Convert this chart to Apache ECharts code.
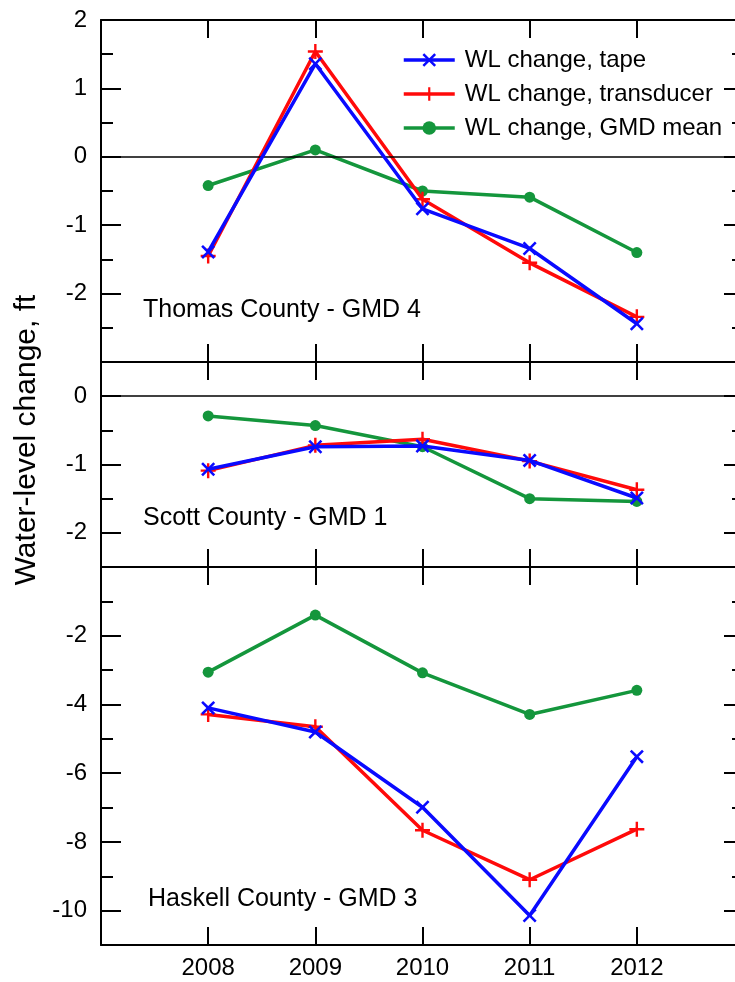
<!DOCTYPE html>
<html>
<head>
<meta charset="utf-8">
<script src="https://cdn.jsdelivr.net/npm/echarts@6/dist/echarts.min.js"></script>
<style>
html,body{margin:0;padding:0;background:#fff;}
#chart{width:735px;height:982px;}
</style>
</head>
<body>
<div id="chart"></div>
<script>
// ---- data ----
const years = [2008, 2009, 2010, 2011, 2012];
const seriesNames = ['WL change, tape', 'WL change, transducer', 'WL change, GMD mean'];
const panelLabels = ['Thomas County - GMD 4', 'Scott County - GMD 1', 'Haskell County - GMD 3'];

const thomasTape        = [-1.39, 1.36, -0.76, -1.34, -2.44];
const thomasTransducer  = [-1.45, 1.54, -0.62, -1.55, -2.34];
const thomasMean        = [-0.42, 0.10, -0.50, -0.59, -1.40];

const scottTape         = [-1.07, -0.74, -0.73, -0.94, -1.49];
const scottTransducer   = [-1.09, -0.72, -0.63, -0.95, -1.37];
const scottMean         = [-0.29, -0.43, -0.74, -1.50, -1.54];

const haskellTape       = [-4.10, -4.80, -6.99, -10.14, -5.52];
const haskellTransducer = [-4.29, -4.65, -7.66, -9.10, -7.63];
const haskellMean       = [-3.06, -1.40, -3.08, -4.29, -3.59];

const yTicks1 = [2, 1, 0, -1, -2];
const yTicks2 = [0, -1, -2];
const yTicks3 = [-2, -4, -6, -8, -10];

// ---- layout ----
const panels = [
  {top: 20,  height: 342, min: -3,   max: 2,   majors: yTicks1, minorStep: 0.5, tape: thomasTape,  trans: thomasTransducer,  mean: thomasMean,  zero: true},
  {top: 362, height: 205, min: -2.5, max: 0.5, majors: yTicks2, minorStep: 0.5, tape: scottTape,   trans: scottTransducer,   mean: scottMean,   zero: true},
  {top: 567, height: 378, min: -11,  max: 0,   majors: yTicks3, minorStep: 1,   tape: haskellTape, trans: haskellTransducer, mean: haskellMean, zero: false}
];

const FONT = '"Liberation Sans", Arial, sans-serif';
const BLUE = '#0a0aff', RED = '#ff0a0a', GREEN = '#14963c';
const XSYM = 'path://M0,1.3 L1.3,0 L5,3.7 L8.7,0 L10,1.3 L6.3,5 L10,8.7 L8.7,10 L5,6.3 L1.3,10 L0,8.7 L3.7,5 Z';
const PSYM = 'path://M4.2,0 H5.8 V4.2 H10 V5.8 H5.8 V10 H4.2 V5.8 H0 V4.2 H4.2 Z';

const axisLine = {show: true, onZero: false, lineStyle: {color: '#000', width: 2}};
const grids = [], xAxes = [], yAxes = [], series = [];

panels.forEach((p, g) => {
  grids.push({left: 101, width: 643, top: p.top, height: p.height, containLabel: false, outerBoundsMode: 'none'});
  // bottom x
  xAxes.push({
    gridIndex: g, type: 'value', min: 2007, max: 2013, position: 'bottom',
    axisLine: axisLine,
    axisTick: {show: true, inside: true, length: 18, customValues: years, lineStyle: {color: '#000', width: 2}},
    axisLabel: {show: g === 2, customValues: years, formatter: v => String(v), margin: 11, color: '#000', fontSize: 24, fontFamily: FONT},
    splitLine: {show: false}
  });
  // top x
  xAxes.push({
    gridIndex: g, type: 'value', min: 2007, max: 2013, position: 'top',
    axisLine: axisLine,
    axisTick: {show: true, inside: true, length: 18, customValues: years, lineStyle: {color: '#000', width: 2}},
    axisLabel: {show: false},
    splitLine: {show: false}
  });
  const yBase = yAxes.length;
  // left major
  yAxes.push({
    gridIndex: g, type: 'value', min: p.min, max: p.max, position: 'left',
    axisLine: axisLine,
    axisTick: {show: true, inside: true, length: 20, customValues: p.majors, lineStyle: {color: '#000', width: 2}},
    axisLabel: {show: true, customValues: p.majors, formatter: v => String(v), margin: 14, color: '#000', fontSize: 24, fontFamily: FONT},
    splitLine: {show: false}
  });
  // left minor
  yAxes.push({
    gridIndex: g, type: 'value', min: p.min, max: p.max, interval: p.minorStep, position: 'left',
    axisLine: {show: false, onZero: false},
    axisTick: {show: true, inside: true, length: 12, lineStyle: {color: '#000', width: 2}},
    axisLabel: {show: false}, splitLine: {show: false}
  });
  // right major
  yAxes.push({
    gridIndex: g, type: 'value', min: p.min, max: p.max, position: 'right',
    axisLine: axisLine,
    axisTick: {show: true, inside: true, length: 20, customValues: p.majors, lineStyle: {color: '#000', width: 2}},
    axisLabel: {show: false}, splitLine: {show: false}
  });
  // right minor
  yAxes.push({
    gridIndex: g, type: 'value', min: p.min, max: p.max, interval: p.minorStep, position: 'right',
    axisLine: {show: false, onZero: false},
    axisTick: {show: true, inside: true, length: 12, lineStyle: {color: '#000', width: 2}},
    axisLabel: {show: false}, splitLine: {show: false}
  });

  const pts = arr => years.map((y, i) => [y, arr[i]]);
  const common = {type: 'line', xAxisIndex: g * 2, yAxisIndex: yBase, animation: false, silent: true};
  series.push(Object.assign({}, common, {
    name: seriesNames[2], data: pts(p.mean), z: 3,
    symbol: 'circle', symbolSize: 11,
    lineStyle: {color: GREEN, width: 3.5}, itemStyle: {color: GREEN},
    markLine: p.zero ? {
      silent: true, symbol: ['none', 'none'], label: {show: false},
      lineStyle: {color: '#000', width: 1.5, type: 'solid'},
      data: [{yAxis: 0}]
    } : undefined
  }));
  series.push(Object.assign({}, common, {
    name: seriesNames[1], data: pts(p.trans), z: 4,
    symbol: PSYM, symbolSize: 15,
    lineStyle: {color: RED, width: 3.5}, itemStyle: {color: RED}
  }));
  series.push(Object.assign({}, common, {
    name: seriesNames[0], data: pts(p.tape), z: 5,
    symbol: XSYM, symbolSize: 14,
    lineStyle: {color: BLUE, width: 3.5}, itemStyle: {color: BLUE}
  }));
});

const chart = echarts.init(document.getElementById('chart'), null, {renderer: 'canvas'});
chart.setOption({
  backgroundColor: '#fff',
  animation: false,
  grid: grids,
  xAxis: xAxes,
  yAxis: yAxes,
  legend: {
    data: seriesNames,
    orient: 'vertical',
    left: 397, top: 43,
    itemWidth: 51, itemHeight: 17, itemGap: 10,
    selectedMode: false,
    lineStyle: {width: 3.5},
    textStyle: {fontSize: 24, lineHeight: 24, color: '#000', fontFamily: FONT, padding: [0, 0, 0, 5]}
  },
  graphic: [
    {type: 'text', left: 143, top: 298, style: {text: panelLabels[0], font: '25px ' + FONT, fill: '#000'}},
    {type: 'text', left: 143, top: 506, style: {text: panelLabels[1], font: '25px ' + FONT, fill: '#000'}},
    {type: 'text', left: 148, top: 887, style: {text: panelLabels[2], font: '25px ' + FONT, fill: '#000'}},
    {type: 'text', x: 27, y: 440, rotation: Math.PI / 2,
     style: {text: 'Water-level change, ft', font: '30px ' + FONT, fill: '#000', align: 'center', verticalAlign: 'middle'}}
  ],
  series: series
});
</script>
</body>
</html>
